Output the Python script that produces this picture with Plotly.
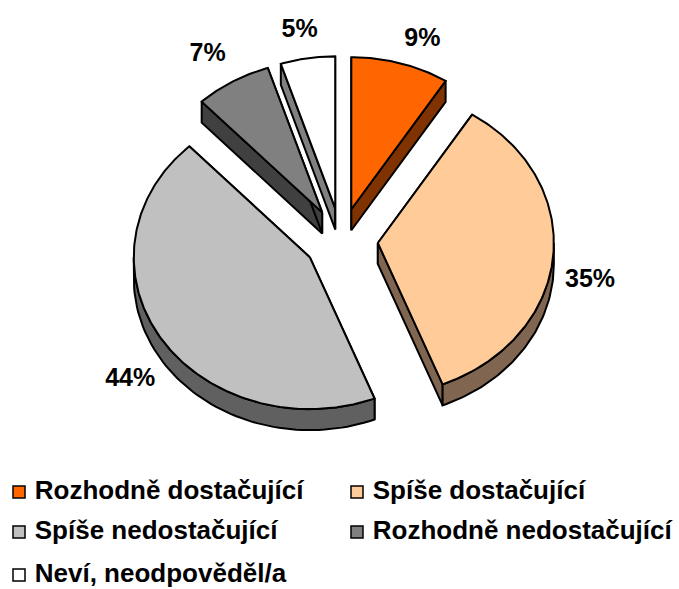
import math
import plotly.graph_objects as go

categories = ["Rozhodně dostačující", "Spíše dostačující", "Spíše nedostačující", "Rozhodně nedostačující", "Neví, neodpověděl/a"]
values = [9, 35, 44, 7, 5]
colors = ["#FF6600", "#FFCC99", "#C0C0C0", "#808080", "#FFFFFF"]
side_colors = ["#803300", "#806650", "#606060", "#404040", "#808080"]

CX, CY = 341, 240
A, B = 176, 152
PX, PY = 37, 32
DEPTH = 21
LABEL_SHIFT = [(22, -24), (37, 23), (-31, 41), (-25, -27), (-8, -28)]
LEGEND_X = [19, 357, 19, 357, 19]
LEGEND_Y = [492, 492, 532, 532, 575]
FONT = "Liberation Sans"
LW = 2

fig = go.Figure()
def poly(xs, ys, fill):
    fig.add_trace(go.Scatter(x=xs, y=ys, mode="lines", fill="toself", fillcolor=fill,
                             line=dict(color="#000000", width=LW), hoverinfo="skip", showlegend=False))

total = sum(values)
start = 0.0
for i, v in enumerate(values):
    end = start + v / total * 360
    mid = math.radians((start + end) / 2)
    ax = CX + PX * math.sin(mid)
    ay = CY - PY * math.cos(mid)
    n = max(8, int((end - start) * 1.5))
    angs = [start + (end - start) * k / n for k in range(n + 1)]
    pts = [(ax + A * math.sin(math.radians(t)), ay - B * math.cos(math.radians(t))) for t in angs]
    # cut faces
    for (px, py) in (pts[0], pts[-1]):
        poly([ax, px, px, ax, ax], [ay, py, py + DEPTH, ay + DEPTH, ay], side_colors[i])
    # outer wall (front-facing part only)
    lo, hi = max(start, 90), min(end, 270)
    if hi > lo:
        wa = [lo + (hi - lo) * k / 60 for k in range(61)]
        wx = [ax + A * math.sin(math.radians(t)) for t in wa]
        wy = [ay - B * math.cos(math.radians(t)) for t in wa]
        poly(wx + wx[::-1] + wx[:1], wy + [y + DEPTH for y in wy[::-1]] + wy[:1], side_colors[i])
    # top surface
    poly([ax] + [p[0] for p in pts] + [ax], [ay] + [p[1] for p in pts] + [ay], colors[i])
    # percent label
    ox = ax + A * math.sin(mid) + LABEL_SHIFT[i][0]
    oy = ay - B * math.cos(mid) + LABEL_SHIFT[i][1]
    fig.add_trace(go.Scatter(x=[ox], y=[oy], mode="text", text=[f"{v}%"], textposition="middle center",
                             textfont=dict(family=FONT, size=25, color="#000000", weight="bold"),
                             hoverinfo="skip", showlegend=False))
    start = end

for i, name in enumerate(categories):
    fig.add_trace(go.Scatter(x=[LEGEND_X[i]], y=[LEGEND_Y[i]], mode="markers+text", text=[" " + name],
                             textposition="middle right",
                             marker=dict(symbol="square", size=12, color=colors[i], line=dict(color="#000000", width=1.5)),
                             textfont=dict(family=FONT, size=26, color="#000000", weight="bold"),
                             hoverinfo="skip", showlegend=False))

fig.update_layout(width=679, height=589, autosize=False, margin=dict(l=0, r=0, t=0, b=0),
                  paper_bgcolor="#FFFFFF", plot_bgcolor="#FFFFFF", showlegend=False,
                  xaxis=dict(range=[0, 679], visible=False, fixedrange=True),
                  yaxis=dict(range=[589, 0], visible=False, fixedrange=True))
fig.write_html("out.html", config={"displayModeBar": False},
               post_script="document.body.style.margin='0';document.body.style.overflow='hidden';")
